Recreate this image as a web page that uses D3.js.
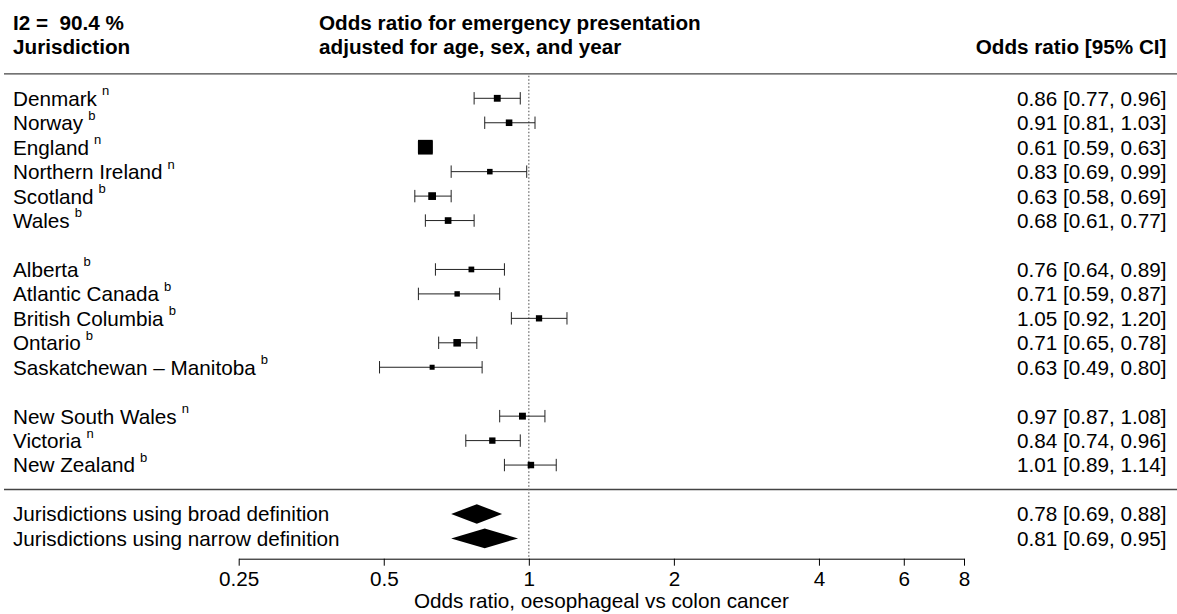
<!DOCTYPE html>
<html>
<head>
<meta charset="utf-8">
<script src="https://cdn.jsdelivr.net/npm/d3@7"></script>
<style>
  html, body { margin: 0; padding: 0; background: #fff; }
  svg { display: block; font-family: "Liberation Sans", Arial, Helvetica, sans-serif; }
  text { white-space: pre; }
</style>
</head>
<body>
<svg id="chart" width="1177" height="614"></svg>
<script>
// ---------------- data ----------------
const groups = [
  ["Denmark", "Norway", "England", "Northern Ireland", "Scotland", "Wales"],
  ["Alberta", "Atlantic Canada", "British Columbia", "Ontario", "Saskatchewan \u2013 Manitoba"],
  ["New South Wales", "Victoria", "New Zealand"]
];
const definitions = ["n", "b", "n", "n", "b", "b", "b", "b", "b", "b", "b", "n", "n", "b"];
const oddsRatio = [0.86, 0.91, 0.61, 0.83, 0.63, 0.68, 0.76, 0.71, 1.05, 0.71, 0.63, 0.97, 0.84, 1.01];
const ciLower   = [0.77, 0.81, 0.59, 0.69, 0.58, 0.61, 0.64, 0.59, 0.92, 0.65, 0.49, 0.87, 0.74, 0.89];
const ciUpper   = [0.96, 1.03, 0.63, 0.99, 0.69, 0.77, 0.89, 0.87, 1.20, 0.78, 0.80, 1.08, 0.96, 1.14];

const summaryLabels = ["Jurisdictions using broad definition", "Jurisdictions using narrow definition"];
const summaryOR    = [0.78, 0.81];
const summaryLower = [0.69, 0.69];
const summaryUpper = [0.88, 0.95];

const tickValues = [0.25, 0.5, 1, 2, 4, 6, 8];
const heterogeneity = "I2 =  90.4 %";
const headerLeft = "Jurisdiction";
const headerMid = ["Odds ratio for emergency presentation", "adjusted for age, sex, and year"];
const headerRight = "Odds ratio [95% CI]";
const axisTitle = "Odds ratio, oesophageal vs colon cancer";

// ---------------- layout ----------------
const svg = d3.select("#chart");
const FS = 20.7;
const x = d3.scaleLog().base(2).domain([0.25, 8]).range([238.7, 964]);
const y = d3.scaleLinear().domain([0, 1]).range([98.3, 122.75]);
const labelX = 13, rightX = 1166.5;
const fmt = d3.format(".2f");

// build study rows with row indices (blank row between groups)
const studies = [];
let idx = 0, row = 0;
groups.forEach((g, gi) => {
  g.forEach(name => {
    studies.push({name, def: definitions[idx], or: oddsRatio[idx], lo: ciLower[idx], hi: ciUpper[idx], row});
    idx++; row++;
  });
  if (gi < groups.length - 1) row++;
});
const sepRow = row;
const summaries = summaryLabels.map((l, i) => ({name: l, or: summaryOR[i], lo: summaryLower[i], hi: summaryUpper[i], row: sepRow + 1 + i}));

// precision-based square size
const prec = studies.map(d => 3.92 / (Math.log(d.hi) - Math.log(d.lo)));
const sizeScale = d3.scaleLinear().domain(d3.extent(prec)).range([5, 14.7]);
studies.forEach((d, i) => d.size = sizeScale(prec[i]));

const axisY = 558.7;
const headerLineY = y(-1);

// ---------------- header ----------------
const hdr = svg.append("g").attr("font-weight", "bold").attr("font-size", FS).attr("fill", "#000");
hdr.append("text").attr("x", labelX).attr("y", 30).text(heterogeneity);
hdr.append("text").attr("x", labelX).attr("y", 54).text(headerLeft);
hdr.append("text").attr("x", 319).attr("y", 30).text(headerMid[0]);
hdr.append("text").attr("x", 319).attr("y", 54).text(headerMid[1]);
hdr.append("text").attr("x", rightX).attr("y", 54).attr("text-anchor", "end").text(headerRight);

// horizontal separators
svg.append("line").attr("x1", 4).attr("x2", 1177).attr("y1", headerLineY).attr("y2", headerLineY)
  .attr("stroke", "#444").attr("stroke-width", 1.3);
svg.append("line").attr("x1", 4).attr("x2", 1177).attr("y1", y(sepRow)).attr("y2", y(sepRow))
  .attr("stroke", "#444").attr("stroke-width", 1.3);

// reference line
svg.append("line").attr("x1", x(1)).attr("x2", x(1)).attr("y1", headerLineY + 2).attr("y2", axisY)
  .attr("stroke", "#666").attr("stroke-width", 1.2).attr("stroke-dasharray", "1.5,2");

// ---------------- study rows ----------------
const rows = svg.append("g").selectAll("g.study").data(studies).join("g").attr("class", "study");

const lbl = rows.append("text").attr("x", labelX).attr("y", d => y(d.row) + 0.358 * FS)
  .attr("font-size", FS).attr("fill", "#000");
lbl.append("tspan").text(d => d.name);
lbl.append("tspan").attr("dx", 5).attr("dy", -10.5).attr("font-size", 13).text(d => d.def);

rows.append("text").attr("x", rightX).attr("y", d => y(d.row) + 0.358 * FS)
  .attr("text-anchor", "end").attr("font-size", FS).attr("fill", "#000")
  .text(d => `${fmt(d.or)} [${fmt(d.lo)}, ${fmt(d.hi)}]`);

rows.append("line").attr("x1", d => x(d.lo)).attr("x2", d => x(d.hi))
  .attr("y1", d => y(d.row)).attr("y2", d => y(d.row))
  .attr("stroke", "#222").attr("stroke-width", 1);
rows.append("line").attr("x1", d => x(d.lo)).attr("x2", d => x(d.lo))
  .attr("y1", d => y(d.row) - 6.2).attr("y2", d => y(d.row) + 6.2)
  .attr("stroke", "#222").attr("stroke-width", 1);
rows.append("line").attr("x1", d => x(d.hi)).attr("x2", d => x(d.hi))
  .attr("y1", d => y(d.row) - 6.2).attr("y2", d => y(d.row) + 6.2)
  .attr("stroke", "#222").attr("stroke-width", 1);
rows.append("rect")
  .attr("x", d => x(d.or) - d.size / 2).attr("y", d => y(d.row) - d.size / 2)
  .attr("width", d => d.size).attr("height", d => d.size).attr("fill", "#000");

// ---------------- summaries ----------------
const sums = svg.append("g").selectAll("g.sum").data(summaries).join("g").attr("class", "sum");
sums.append("text").attr("x", labelX).attr("y", d => y(d.row) + 0.358 * FS)
  .attr("font-size", FS).attr("fill", "#000").text(d => d.name);
sums.append("text").attr("x", rightX).attr("y", d => y(d.row) + 0.358 * FS)
  .attr("text-anchor", "end").attr("font-size", FS).attr("fill", "#000")
  .text(d => `${fmt(d.or)} [${fmt(d.lo)}, ${fmt(d.hi)}]`);
const dh = 9.8;
sums.append("path").attr("fill", "#000")
  .attr("d", d => {
    const yc = y(d.row);
    return `M${x(d.lo)},${yc}L${x(d.or)},${yc - dh}L${x(d.hi)},${yc}L${x(d.or)},${yc + dh}Z`;
  });

// ---------------- axis ----------------
const axis = d3.axisBottom(x).tickValues(tickValues).tickFormat(d => String(d))
  .tickSize(7).tickSizeOuter(0).tickPadding(6);
const ax = svg.append("g").attr("transform", `translate(0,${axisY})`).call(axis);
ax.select(".domain").attr("stroke", "#000").attr("stroke-width", 1);
ax.selectAll(".tick line").attr("stroke", "#000").attr("stroke-width", 1);
ax.selectAll(".tick text").attr("font-size", FS).attr("fill", "#000")
  .attr("font-family", '"Liberation Sans", Arial, Helvetica, sans-serif');

svg.append("text").attr("x", (x.range()[0] + x.range()[1]) / 2).attr("y", 608.3)
  .attr("text-anchor", "middle").attr("font-size", FS).attr("fill", "#000").text(axisTitle);
</script>
</body>
</html>
